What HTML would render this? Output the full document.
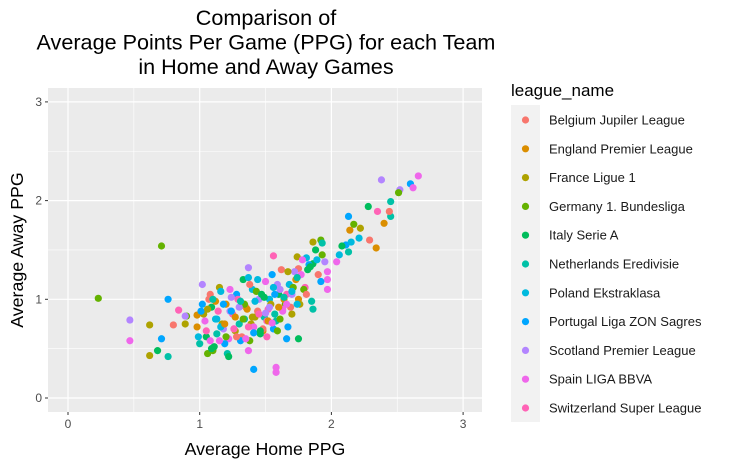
<!DOCTYPE html>
<html><head><meta charset="utf-8"><style>
body{margin:0;background:#fff;font-family:"Liberation Sans",sans-serif;}
svg text{font-family:"Liberation Sans",sans-serif;}
</style></head><body>
<svg id="c" width="737" height="468"></svg>
<script>
const leagues=["Belgium Jupiler League","England Premier League","France Ligue 1","Germany 1. Bundesliga","Italy Serie A","Netherlands Eredivisie","Poland Ekstraklasa","Portugal Liga ZON Sagres","Scotland Premier League","Spain LIGA BBVA","Switzerland Super League"];
const colors=["#F8766D","#DB8E00","#AEA200","#64B200","#00BD5C","#00C1A7","#00BADE","#00A6FF","#B385FF","#EF67EB","#FF63B6"];
const xTicks=[0,1,2,3];
const yTicks=[0,1,2,3];
const homePPG=[0.23,0.71,0.76,0.47,0.62,0.47,0.71,0.68,0.62,0.76,0.80,0.84,0.90,0.89,0.98,0.89,
2.38,2.60,2.66,2.52,2.62,2.51,2.45,2.45,2.28,2.35,2.44,2.40,2.13,2.17,2.14,2.22,2.21,2.29,2.34,1.86,1.92,1.93,2.11,2.15,2.08,2.13,2.06,2.04,1.97,
1.56,1.37,1.74,1.81,1.75,1.86,1.97,1.97,1.66,1.75,1.41,1.58,1.58,1.37,1.51,
1.00,1.02,1.05,1.08,1.10,1.12,1.15,1.18,1.20,1.22,1.25,1.28,1.30,1.33,1.35,1.38,1.40,1.42,1.45,1.48,1.50,1.52,1.55,1.58,1.60,1.62,1.65,1.68,1.70,1.72,1.75,1.78,1.80,1.83,1.85,1.88,1.90,1.93,
0.98,1.03,1.06,1.09,1.13,1.16,1.19,1.23,1.26,1.29,1.32,1.36,1.39,1.43,1.46,1.49,1.53,1.56,1.59,1.63,1.66,1.69,1.73,1.76,1.79,1.82,1.86,1.89,1.92,1.95,
0.99,1.04,1.07,1.11,1.14,1.17,1.21,1.24,1.27,1.31,1.34,1.37,1.41,1.44,1.47,1.51,1.54,1.57,1.61,1.64,1.67,1.71,1.74,1.77,1.81,1.84,
1.01,1.05,1.09,1.12,1.16,1.20,1.23,1.27,1.30,1.34,1.38,1.41,1.45,1.49,1.52,1.56,1.59,1.63,1.67,1.70,1.74,
1.02,1.08,1.13,1.18,1.22,1.26,1.31,1.35,1.40,1.44,1.48,1.53,1.57,1.61,1.66,1.70,
1.06,1.10,1.15,1.19,1.24,1.28,1.33,1.37,1.42,1.46,1.50,1.55,1.60,1.64];
const awayPPG=[1.01,1.54,1.00,0.79,0.74,0.58,0.60,0.48,0.43,0.42,0.74,0.89,0.83,0.83,0.84,0.75,
2.21,2.17,2.25,2.11,2.13,2.08,1.99,1.84,1.94,1.89,1.89,1.77,1.84,1.76,1.70,1.72,1.62,1.60,1.52,1.58,1.60,1.57,1.55,1.58,1.54,1.48,1.45,1.38,1.28,
1.44,1.32,1.43,1.42,1.31,1.36,1.10,1.20,0.60,0.60,0.29,0.31,0.26,0.48,0.62,
0.55,0.95,0.62,1.05,0.48,0.80,1.12,0.70,0.95,0.60,0.85,1.05,0.75,1.20,0.92,0.58,1.10,0.82,1.00,0.68,1.18,0.90,1.25,0.78,1.05,1.30,0.95,1.15,0.85,1.28,1.00,1.40,1.12,1.35,0.98,1.50,1.25,1.45,
0.72,0.85,0.45,0.92,0.65,1.08,0.55,0.88,0.70,1.00,0.62,0.90,0.75,1.08,0.65,0.82,1.00,0.70,1.15,0.88,1.05,0.92,1.20,0.95,1.10,1.30,0.90,1.40,1.18,1.38,
0.62,0.78,1.00,0.52,0.88,0.75,0.45,1.02,0.82,0.58,0.95,1.22,0.72,0.88,1.05,0.78,0.95,0.85,1.10,1.00,0.72,1.12,0.95,1.25,1.05,1.33,
0.88,0.68,0.50,0.98,0.72,0.62,1.10,0.68,0.92,0.80,1.15,0.66,0.85,1.02,0.78,1.12,0.68,0.90,1.28,1.05,1.22,
1.15,0.58,0.80,0.95,0.42,0.70,0.98,0.60,0.82,1.20,0.70,0.92,1.05,0.80,0.95,1.08,
0.90,1.00,0.58,0.75,0.88,0.62,0.80,0.72,0.98,0.68,0.86,0.76,0.92,1.02];
const league=[3,3,7,8,2,9,7,4,2,5,0,10,3,8,1,2,
8,7,9,8,9,3,5,5,4,10,0,1,7,3,1,2,6,0,1,2,3,5,7,6,4,5,6,9,9,
10,8,2,6,0,4,9,9,7,4,7,9,9,9,10,
5,7,4,0,3,6,2,8,1,9,10,7,5,4,0,3,6,2,8,1,9,10,7,5,4,0,3,6,2,8,1,9,10,7,5,4,0,3,
1,2,3,4,5,6,7,8,9,10,0,1,2,3,4,5,6,7,8,9,10,0,1,2,3,4,5,6,7,8,
6,9,0,4,10,2,5,8,1,7,3,6,9,0,4,10,2,5,8,1,7,3,6,9,0,4,
7,10,4,1,6,3,9,2,8,5,0,7,10,4,1,6,3,9,2,8,5,
8,9,6,7,4,10,5,9,2,6,0,8,7,3,9,6,
2,5,9,1,7,0,3,10,6,4,8,9,1,5];
const NS="http://www.w3.org/2000/svg";
const svg=document.getElementById('c');
const P={l:48,r:482,t:88,b:412};
const sx=v=>68+v*131.7, sy=v=>398-v*98.7;
function el(t,a,p){const e=document.createElementNS(NS,t);for(const k in a)e.setAttribute(k,a[k]);(p||svg).appendChild(e);return e;}
const panel=el('rect',{x:P.l,y:P.t,width:P.r-P.l,height:P.b-P.t,fill:'#EBEBEB'});


[0.5,1.5,2.5].forEach(v=>{el('line',{x1:sx(v),x2:sx(v),y1:P.t,y2:P.b,stroke:'#fff','stroke-width':0.6});el('line',{y1:sy(v),y2:sy(v),x1:P.l,x2:P.r,stroke:'#fff','stroke-width':0.6});});
xTicks.forEach(v=>{const g=el('line',{x1:sx(v),x2:sx(v),y1:P.t,y2:P.b,stroke:'#fff','stroke-width':1.2});
el('line',{x1:sx(v),x2:sx(v),y1:P.b,y2:P.b+3,stroke:'#333'});
const t=el('text',{x:sx(v),y:P.b+16,'text-anchor':'middle','font-size':12,fill:'#4D4D4D'});t.textContent=v;});
yTicks.forEach(v=>{const g=el('line',{y1:sy(v),y2:sy(v),x1:P.l,x2:P.r,stroke:'#fff','stroke-width':1.2});
el('line',{y1:sy(v),y2:sy(v),x1:P.l-3,x2:P.l,stroke:'#333'});
const t=el('text',{x:P.l-6,y:sy(v)+4,'text-anchor':'end','font-size':12,fill:'#4D4D4D'});t.textContent=v;});
for(let i=0;i<homePPG.length;i++){
const c=el('circle',{cx:sx(homePPG[i]),cy:sy(awayPPG[i]),r:3.6,fill:colors[league[i]]});


}
const titles=["Comparison of","Average Points Per Game (PPG) for each Team","in Home and Away Games"];
titles.forEach((s,i)=>{const t=el('text',{x:266,y:25+i*24.5,'text-anchor':'middle','font-size':21.6,fill:'#000'});t.textContent=s;});
const xt=el('text',{x:265,y:455,'text-anchor':'middle','font-size':17.8,fill:'#000'});xt.textContent='Average Home PPG';

const yt=el('text',{x:0,y:0,'text-anchor':'middle','font-size':17.8,fill:'#000',transform:'translate(23,250) rotate(-90)'});yt.textContent='Average Away PPG';

const lt=el('text',{x:511,y:96,'font-size':17,fill:'#000'});lt.textContent='league_name';

el('rect',{x:511,y:105,width:29,height:317,fill:'#F2F2F2'});
leagues.forEach((n,i)=>{const y=120+i*28.8;
const g=el('g',{});
el('circle',{cx:525.5,cy:y,r:3.6,fill:colors[i]},g);
const t=el('text',{x:549,y:y+4.5,'font-size':13,fill:'#1A1A1A'},g);t.textContent=n;});
</script>
</body></html>
